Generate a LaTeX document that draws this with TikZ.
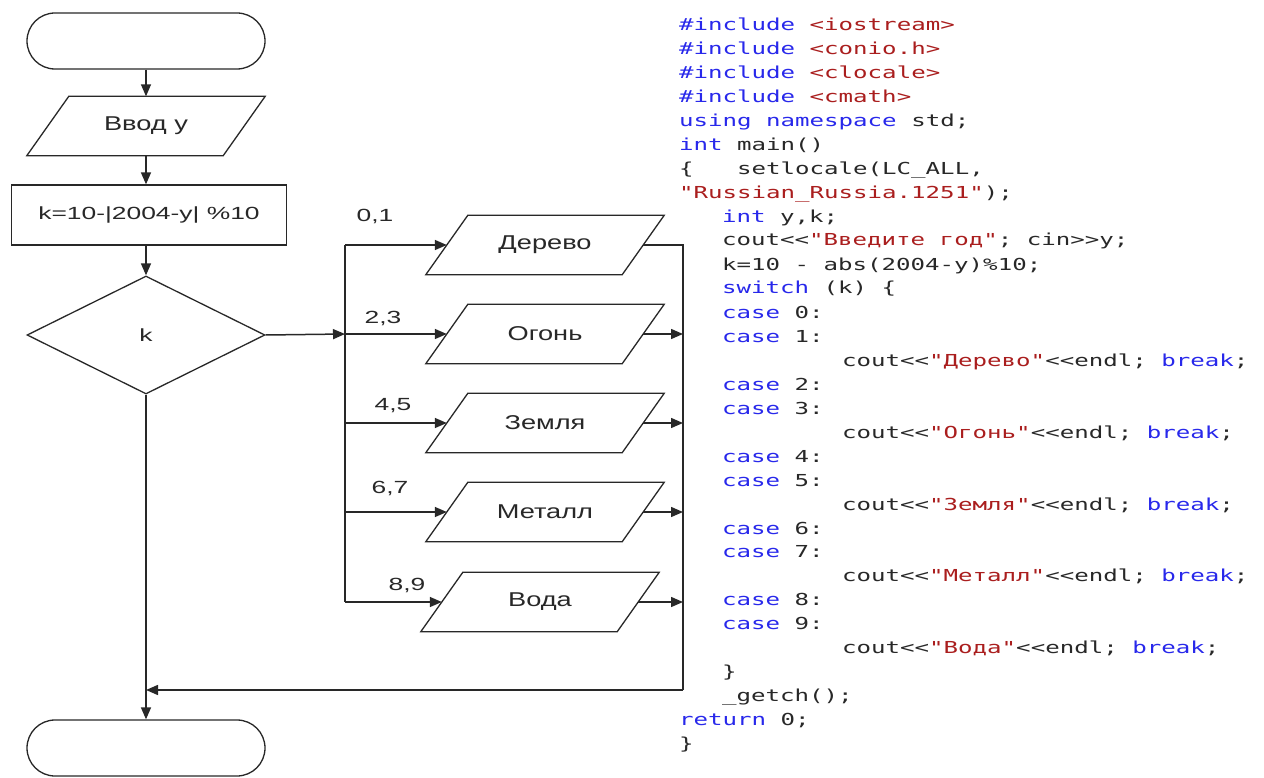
\documentclass[tikz,border=0pt]{standalone}
\usepackage{fontspec}
\usetikzlibrary{shapes.geometric,arrows.meta,calc}
\newfontfamily\fla[FakeStretch=1.5]{Liberation Sans}
\newfontfamily\flb[FakeStretch=1.36]{Liberation Sans}
\newfontfamily\codef[FakeStretch=1.46]{DejaVu Sans Mono}
\definecolor{kwc}{RGB}{40,40,235}
\definecolor{stc}{RGB}{170,30,30}
\definecolor{ink}{RGB}{40,40,40}
\newcommand\kwd[1]{\textcolor{kwc}{#1}}
\newcommand\strg[1]{\textcolor{stc}{#1}}
\newcommand\para[4]{%
  \node[ptext] (#1) at (#2,#3) {#4};
  \draw[shapeline] ($(#1.south west)+(-21,0)$) -- ($(#1.north west)+(21,0)$) -- ($(#1.north east)+(21,0)$) -- ($(#1.south east)+(-21,0)$) -- cycle;}
\tikzset{
  shapeline/.style={draw=ink, line width=1.3pt},
  conn/.style={draw=ink, line width=1.5pt},
  arr/.style={conn, -{Triangle[length=12pt,width=10pt]}},
  term/.style={shapeline, rounded corners=28pt, minimum width=238pt, minimum height=56pt, inner sep=0pt},
  ptext/.style={minimum width=196pt, minimum height=59pt, inner sep=0pt, text=ink, font=\flb\fontsize{20}{24}\selectfont},
  small/.style={inner sep=0pt, text=ink, font=\fla\fontsize{17.6}{21}\selectfont},
  code/.style={anchor=base west, inner sep=0pt, text=ink, font=\codef\fontsize{16.5}{20}\selectfont},
}
\begin{document}
\begin{tikzpicture}[x=1pt,y=-1pt]
\fill[white] (0,0) rectangle (1264,778);
\useasboundingbox (0,0) rectangle (1264,778);
% flowchart left column
\node[term] (start) at (146,41) {};
\para{input}{146}{126}{Ввод у}
\node[shapeline, minimum width=275pt, minimum height=60pt, inner sep=0pt, text=ink, font=\fla\fontsize{17.6}{21}\selectfont] (calc) at (149,215) {k=10-|2004-y| \%10};
\node[shapeline, diamond, minimum width=238pt, minimum height=118pt, inner sep=0pt, text=ink, font=\fla\fontsize{17.6}{21}\selectfont] (dia) at (146,335) {k};
\node[term] (end) at (146,748) {};
\draw[arr] (start) -- (input);
\draw[arr] (input.south) -- (input.south |- calc.north);
\draw[arr] (calc.south -| dia.north) -- (dia.north);
\draw[arr] (dia.south) -- (end.north);
% branches
\para{p1}{545}{245}{Дерево}
\para{p2}{545}{334}{Огонь}
\para{p3}{545}{423}{Земля}
\para{p4}{545}{512}{Металл}
\para{p5}{540}{602}{Вода}
\coordinate (b1) at (345,245);
\coordinate (b2) at (345,334);
\coordinate (b3) at (345,423);
\coordinate (b4) at (345,512);
\coordinate (b5) at (345,602);
\draw[conn] (b1) -- (b5);
\draw[arr] (dia.east) -- (b2);
\foreach \i in {1,...,5} {\draw[arr] (b\i) -- (p\i.west);}
\node[small] (l1) at (375,216) {0,1};
\node[small] (l2) at (383,318) {2,3};
\node[small] (l3) at (393,406) {4,5};
\node[small] (l4) at (390,488) {6,7};
\node[small] (l5) at (407,585) {8,9};
\coordinate (r1) at (683,245);
\coordinate (r2) at (683,334);
\coordinate (r3) at (683,423);
\coordinate (r4) at (683,512);
\coordinate (r5) at (683,602);
\coordinate (rb) at (683,690);
\coordinate (mb) at (146,690);
\draw[conn] (p1.east) -- (r1) -- (rb);
\foreach \i in {2,...,5} {\draw[arr] (p\i.east) -- (r\i);}
\draw[arr] (rb) -- (mb);
% code
\node[code] (c1) at (679,31) {\kwd{\#include} \strg{<iostream>}};
\node[code] (c2) at (679,55) {\kwd{\#include} \strg{<conio.h>}};
\node[code] (c3) at (679,79) {\kwd{\#include} \strg{<clocale>}};
\node[code] (c4) at (679,103) {\kwd{\#include} \strg{<cmath>}};
\node[code] (c5) at (679,127) {\kwd{using} \kwd{namespace} std;};
\node[code] (c6) at (679,151) {\kwd{int} main()};
\node[code] (c7) at (679,175) {\{\phantom{xxx}setlocale(LC\_ALL,};
\node[code] (c8) at (679,199) {\strg{"Russian\_Russia.1251"});};
\node[code] (c9) at (722,223) {\kwd{int} y,k;};
\node[code] (c10) at (722,246) {cout<<\strg{"Введите год"}; cin>>y;};
\node[code] (c11) at (722,270) {k=10 - abs(2004-y)\%10;};
\node[code] (c12) at (722,294) {\kwd{switch} (k) \{};
\node[code] (c13) at (722,318) {\kwd{case} 0:};
\node[code] (c14) at (722,342) {\kwd{case} 1:};
\node[code] (c15) at (842,366) {cout<<\strg{"Дерево"}<<endl; \kwd{break};};
\node[code] (c16) at (722,390) {\kwd{case} 2:};
\node[code] (c17) at (722,414) {\kwd{case} 3:};
\node[code] (c18) at (842,438) {cout<<\strg{"Огонь"}<<endl; \kwd{break};};
\node[code] (c19) at (722,462) {\kwd{case} 4:};
\node[code] (c20) at (722,486) {\kwd{case} 5:};
\node[code] (c21) at (842,510) {cout<<\strg{"Земля"}<<endl; \kwd{break};};
\node[code] (c22) at (722,534) {\kwd{case} 6:};
\node[code] (c23) at (722,557) {\kwd{case} 7:};
\node[code] (c24) at (842,581) {cout<<\strg{"Металл"}<<endl; \kwd{break};};
\node[code] (c25) at (722,605) {\kwd{case} 8:};
\node[code] (c26) at (722,629) {\kwd{case} 9:};
\node[code] (c27) at (842,653) {cout<<\strg{"Вода"}<<endl; \kwd{break};};
\node[code] (c28) at (722,677) {\}};
\node[code] (c29) at (722,701) {\_getch();};
\node[code] (c30) at (679,725) {\kwd{return} 0;};
\node[code] (c31) at (679,749) {\}};
\end{tikzpicture}
\end{document}
